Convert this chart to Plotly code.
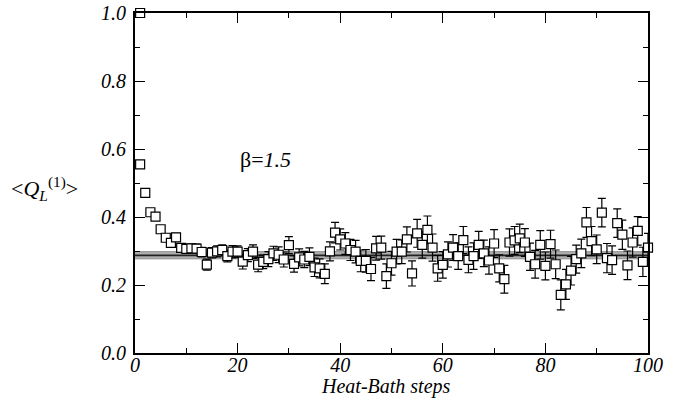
import plotly.graph_objects as go

# ---- data ----
steps = [1] + list(range(1, 101))
q_values = [
    1.000,
    0.555, 0.471, 0.414, 0.401, 0.364, 0.339, 0.324, 0.340, 0.309, 0.306,
    0.308, 0.307, 0.297, 0.260, 0.295, 0.299, 0.303, 0.285, 0.298, 0.298,
    0.269, 0.288, 0.298, 0.260, 0.268, 0.276, 0.293, 0.289, 0.275, 0.317,
    0.262, 0.281, 0.275, 0.283, 0.252, 0.249, 0.233, 0.299, 0.354, 0.334,
    0.322, 0.303, 0.298, 0.271, 0.271, 0.247, 0.308, 0.310, 0.226, 0.264,
    0.298, 0.298, 0.334, 0.234, 0.352, 0.318, 0.362, 0.310, 0.249, 0.259,
    0.290, 0.310, 0.285, 0.332, 0.274, 0.285, 0.318, 0.293, 0.272, 0.322,
    0.249, 0.217, 0.325, 0.331, 0.337, 0.325, 0.283, 0.261, 0.318, 0.256,
    0.320, 0.261, 0.171, 0.202, 0.242, 0.276, 0.293, 0.384, 0.329, 0.305,
    0.413, 0.279, 0.273, 0.382, 0.348, 0.258, 0.325, 0.359, 0.268, 0.310,
]
q_errors = [
    0.004,
    0.005, 0.008, 0.008, 0.008, 0.010, 0.011, 0.011, 0.012, 0.011, 0.012,
    0.013, 0.013, 0.014, 0.016, 0.015, 0.016, 0.015, 0.017, 0.018, 0.017,
    0.022, 0.019, 0.020, 0.021, 0.020, 0.022, 0.021, 0.023, 0.022, 0.025,
    0.024, 0.025, 0.024, 0.026, 0.027, 0.028, 0.029, 0.028, 0.030, 0.031,
    0.032, 0.031, 0.033, 0.032, 0.033, 0.034, 0.035, 0.034, 0.036, 0.035,
    0.036, 0.035, 0.037, 0.037, 0.041, 0.039, 0.041, 0.040, 0.038, 0.039,
    0.037, 0.038, 0.039, 0.040, 0.038, 0.039, 0.040, 0.039, 0.040, 0.041,
    0.040, 0.041, 0.040, 0.041, 0.042, 0.041, 0.040, 0.041, 0.042, 0.041,
    0.041, 0.042, 0.044, 0.044, 0.042, 0.041, 0.042, 0.044, 0.043, 0.042,
    0.042, 0.043, 0.042, 0.042, 0.043, 0.042, 0.043, 0.042, 0.043, 0.042,
]
band_range = [0, 100]
band_low, band_mean, band_high = 0.277, 0.287, 0.298

x_ticks = [0, 20, 40, 60, 80, 100]
y_ticks = [0.0, 0.2, 0.4, 0.6, 0.8, 1.0]

FONT = "Liberation Serif"

fig = go.Figure()
fig.add_trace(go.Scatter(x=band_range, y=[band_low, band_low], mode="lines",
                         line=dict(color="#8c8c8c", width=1), showlegend=False,
                         hoverinfo="skip"))
fig.add_trace(go.Scatter(x=band_range, y=[band_high, band_high], mode="lines",
                         line=dict(color="#8c8c8c", width=1), fill="tonexty",
                         fillcolor="rgba(165,165,165,0.9)", showlegend=False,
                         hoverinfo="skip"))
fig.add_trace(go.Scatter(x=band_range, y=[band_mean, band_mean], mode="lines",
                         line=dict(color="#222222", width=1.6), showlegend=False,
                         hoverinfo="skip"))
fig.add_trace(go.Scatter(
    x=steps, y=q_values, mode="markers",
    marker=dict(symbol="square", size=9, color="white",
                line=dict(color="black", width=1.2)),
    error_y=dict(type="data", array=q_errors, visible=True,
                 color="black", thickness=1.2, width=4),
    cliponaxis=False, showlegend=False))

axis_common = dict(
    showline=True, linecolor="black", linewidth=2, mirror="allticks",
    ticks="inside", ticklen=10, tickwidth=1.3, tickcolor="black",
    showgrid=False, zeroline=False, automargin=False,
    tickfont=dict(family=FONT, size=20, color="black", style="italic"),
)
fig.update_xaxes(range=[0, 100], tickvals=x_ticks, ticklabelstandoff=-7,
                 minor=dict(dtick=10, tick0=0, ticks="inside", ticklen=5,
                            tickwidth=1.3, tickcolor="black", showgrid=False),
                 **axis_common)
fig.update_yaxes(range=[0, 1.0], tickvals=y_ticks, tickformat=".1f",
                 ticklabelstandoff=3,
                 minor=dict(dtick=0.1, tick0=0, ticks="inside", ticklen=5,
                            tickwidth=1.3, tickcolor="black", showgrid=False),
                 **axis_common)

fig.add_annotation(xref="paper", yref="paper", x=0.489, y=-0.099,
                   text="<i>Heat-Bath steps</i>",
                   showarrow=False, xanchor="center", yanchor="middle",
                   font=dict(family=FONT, size=20, color="black"))
fig.add_annotation(xref="paper", yref="paper", x=-0.176, y=0.485,
                   text="&lt;<i>Q</i><sub><i>L</i></sub><sup>(1)</sup>&gt;",
                   showarrow=False, xanchor="center", yanchor="middle",
                   font=dict(family=FONT, size=22, color="black"))
fig.add_annotation(xref="x", yref="y", x=20, y=0.568,
                   text="β=<i>1.5</i>", showarrow=False,
                   xanchor="left", yanchor="middle",
                   font=dict(family=FONT, size=22, color="black"))

fig.update_layout(width=689, height=416,
                  margin=dict(l=135, r=41, t=13, b=63, autoexpand=False),
                  paper_bgcolor="white", plot_bgcolor="white",
                  font=dict(family=FONT, color="black"))

fig.write_html("out.html", config={"displayModeBar": False},
               post_script="document.body.style.margin='0';"
                           "document.body.style.padding='0';")
